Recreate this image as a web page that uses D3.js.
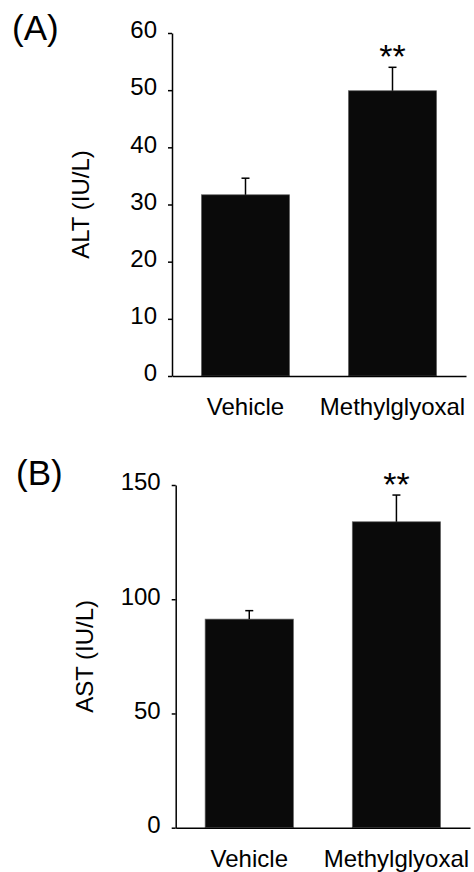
<!DOCTYPE html>
<html>
<head>
<meta charset="utf-8">
<script src="https://cdn.jsdelivr.net/npm/d3@7"></script>
<style>
  html, body { margin: 0; padding: 0; background: #fff; }
  svg { display: block; font-family: "Liberation Sans", Arial, sans-serif; }
</style>
</head>
<body>
<div id="chart"></div>
<script>
// values
const categories = ["Vehicle", "Methylglyoxal"];
const altMeans = [31.7, 49.9];
const altErrors = [2.9, 4.1];
const astMeans = [91.3, 133.9];
const astErrors = [3.7, 11.7];
const altTicks = [0, 10, 20, 30, 40, 50, 60];
const astTicks = [0, 50, 100, 150];
const marks = ["", "**"];

const config = {
    width: 474,
    height: 872,
    fontSize: 24,
    starSize: 34,
    panelSize: 35,
    tickSize: 4,
    capWidth: 8,
    barColor: "#0a0a0a",
};

const svg = d3.select("#chart")
    .append("svg")
    .attr("width", config.width)
    .attr("height", config.height);

function draw_panel(p, means, errors, ticks) {
    const g = svg.append("g");

    const scale_x = d3.scaleBand()
        .domain(categories)
        .range([p.left, p.right])
        .paddingInner(0.4)
        .paddingOuter(0.2);
    const scale_y = d3.scaleLinear()
        .domain([0, d3.max(ticks)])
        .range([p.bottom, p.top]);
    const cx = (i) => scale_x(categories[i]) + scale_x.bandwidth() / 2;

    // bars
    g.append("g")
        .selectAll("rect")
        .data(means)
        .join("rect")
        .attr("x", (d, i) => scale_x(categories[i]))
        .attr("y", d => scale_y(d))
        .attr("width", scale_x.bandwidth())
        .attr("height", d => p.bottom - scale_y(d))
        .attr("fill", config.barColor)
        .attr("stroke", "#666")
        .attr("stroke-width", 0.7);

    // error bars (upper only)
    const err = g.append("g")
        .selectAll("g")
        .data(means)
        .join("g")
        .attr("stroke", "#000")
        .attr("stroke-width", 1.5);
    err.append("line")
        .attr("x1", (d, i) => cx(i))
        .attr("x2", (d, i) => cx(i))
        .attr("y1", d => scale_y(d))
        .attr("y2", (d, i) => scale_y(d + errors[i]));
    err.append("line")
        .attr("x1", (d, i) => cx(i) - config.capWidth / 2)
        .attr("x2", (d, i) => cx(i) + config.capWidth / 2)
        .attr("y1", (d, i) => scale_y(d + errors[i]))
        .attr("y2", (d, i) => scale_y(d + errors[i]));

    // significance stars
    g.append("g")
        .selectAll("text")
        .data(marks)
        .join("text")
        .attr("x", (d, i) => cx(i))
        .attr("y", (d, i) => scale_y(means[i] + errors[i]) + 1)
        .attr("text-anchor", "middle")
        .attr("font-size", config.starSize)
        .text(d => d);

    // y axis
    const axis_left = d3.axisLeft(scale_y)
        .tickValues(ticks)
        .tickSize(config.tickSize)
        .tickSizeOuter(0)
        .tickPadding(11);
    const g_axisY = g.append("g")
        .attr("transform", `translate(${p.left}, 0)`)
        .call(axis_left)
        .attr("font-family", null)
        .attr("font-size", config.fontSize);
    g_axisY.select(".domain").attr("stroke-width", 1.5);
    g_axisY.selectAll(".tick line").attr("stroke-width", 1.5);
    g_axisY.selectAll(".tick text")
        .attr("fill", "#000")
        .attr("dy", "0.2em");

    // x axis (baseline only)
    const axis_bottom = d3.axisBottom(scale_x)
        .tickSize(0)
        .tickSizeOuter(0)
        .tickPadding(0);
    const g_axisX = g.append("g")
        .attr("transform", `translate(0, ${p.bottom})`)
        .call(axis_bottom)
        .attr("font-family", null)
        .attr("font-size", config.fontSize);
    g_axisX.select(".domain").attr("stroke-width", 1.5);
    g_axisX.selectAll(".tick text")
        .attr("fill", "#000")
        .attr("dy", null)
        .attr("y", p.labelY - p.bottom);

    // axis title
    g.append("text")
        .attr("transform", `translate(${p.titleX}, ${(p.top + p.bottom) / 2}) rotate(-90)`)
        .attr("text-anchor", "middle")
        .attr("font-size", config.fontSize)
        .text(p.title);

    // panel letter
    g.append("text")
        .attr("x", p.letterX)
        .attr("y", p.letterY)
        .attr("font-size", config.panelSize)
        .text(p.letter);
}

draw_panel({
    left: 172, right: 466, top: 33, bottom: 376, labelY: 415,
    titleX: 89, title: "ALT (IU/L)", letter: "(A)", letterX: 12, letterY: 40,
}, altMeans, altErrors, altTicks);

draw_panel({
    left: 175.7, right: 470, top: 485, bottom: 827.7, labelY: 867,
    titleX: 92.5, title: "AST (IU/L)", letter: "(B)", letterX: 16, letterY: 485,
}, astMeans, astErrors, astTicks);
</script>
</body>
</html>
